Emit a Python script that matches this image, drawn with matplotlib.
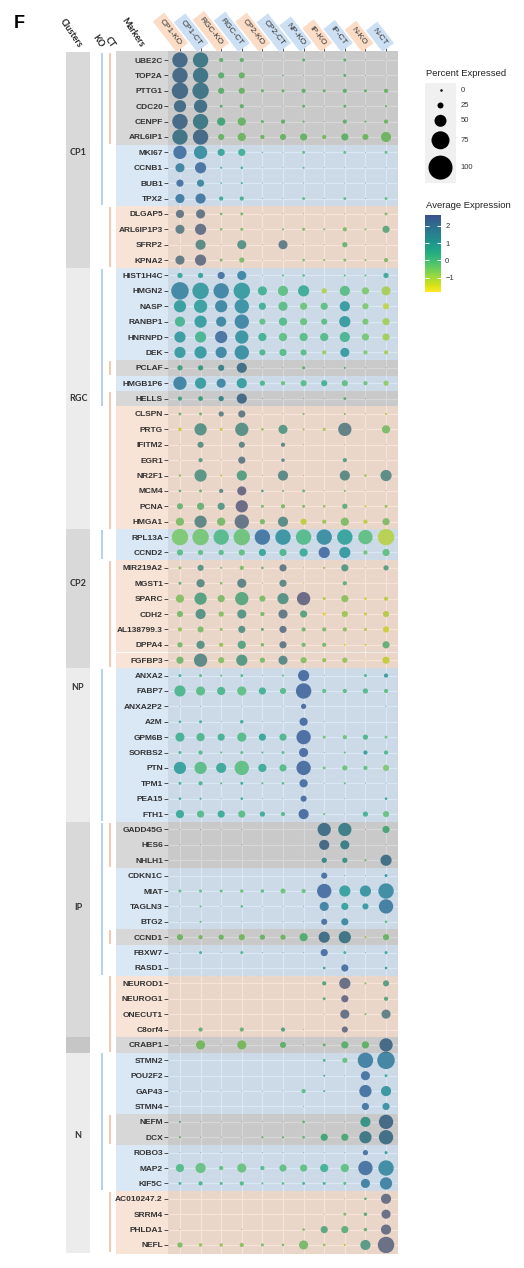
import matplotlib
matplotlib.use('Agg')
import matplotlib.pyplot as plt
import numpy as np
from matplotlib.colors import ListedColormap, Normalize
from matplotlib.cm import ScalarMappable

columns = ['CP1-KO', 'CP1-CT', 'RGC-KO', 'RGC-CT', 'CP2-KO', 'CP2-CT',
           'NP-KO', 'IP-KO', 'IP-CT', 'N-KO', 'N-CT']

clusters = ['CP1', 'RGC', 'CP2', 'NP', 'IP', 'N']
cluster_sizes = [14, 17, 9, 10, 14, 14]
shared_markers = ['CRABP1']

markers = ['UBE2C', 'TOP2A', 'PTTG1', 'CDC20', 'CENPF', 'ARL6IP1', 'MKI67', 'CCNB1', 'BUB1', 'TPX2',
           'DLGAP5', 'ARL6IP1P3', 'SFRP2', 'KPNA2',
           'HIST1H4C', 'HMGN2', 'NASP', 'RANBP1', 'HNRNPD', 'DEK', 'PCLAF', 'HMGB1P6', 'HELLS',
           'CLSPN', 'PRTG', 'IFITM2', 'EGR1', 'NR2F1', 'MCM4', 'PCNA', 'HMGA1',
           'RPL13A', 'CCND2', 'MIR219A2', 'MGST1', 'SPARC', 'CDH2', 'AL138799.3', 'DPPA4', 'FGFBP3',
           'ANXA2', 'FABP7', 'ANXA2P2', 'A2M', 'GPM6B', 'SORBS2', 'PTN', 'TPM1', 'PEA15', 'FTH1',
           'GADD45G', 'HES6', 'NHLH1', 'CDKN1C', 'MIAT', 'TAGLN3', 'BTG2', 'CCND1', 'FBXW7', 'RASD1',
           'NEUROD1', 'NEUROG1', 'ONECUT1', 'C8orf4',
           'CRABP1', 'STMN2', 'POU2F2', 'GAP43', 'STMN4', 'NEFM', 'DCX', 'ROBO3', 'MAP2', 'KIF5C',
           'AC010247.2', 'SRRM4', 'PHLDA1', 'NEFL']

# B = marker in both, C = CT only, K = KO only
row_group = ('BBBBBBCCCCKKKK' + 'CCCCCCBCBKKKKKKKK' + 'CCKKKKKKK' + 'CCCCCCCCCC'
             + 'BBBCCCCBCCKKKK' + 'BCCCCBBCCCKKKK')

# percent expressed
pct = [
    [88, 88, 24, 24, 6, 6, 17, 6, 17, 6, 6],
    [88, 88, 35, 35, 6, 9, 6, 6, 17, 6, 6],
    [94, 94, 35, 35, 17, 17, 24, 17, 24, 17, 24],
    [70, 76, 17, 24, 6, 6, 17, 6, 17, 6, 12],
    [88, 88, 47, 47, 17, 24, 12, 6, 24, 12, 24],
    [88, 88, 35, 47, 24, 35, 41, 24, 41, 35, 58],
    [76, 76, 41, 41, 9, 6, 17, 6, 17, 6, 17],
    [52, 64, 12, 15, 6, 6, 12, 6, 6, 6, 6],
    [41, 41, 9, 12, 6, 6, 6, 6, 6, 6, 6],
    [52, 58, 24, 24, 6, 6, 17, 6, 17, 6, 17],
    [47, 52, 15, 17, 6, 6, 6, 6, 6, 6, 17],
    [52, 64, 15, 17, 6, 12, 17, 12, 24, 12, 41],
    [5, 58, 6, 52, 6, 52, 6, 6, 30, 6, 6],
    [52, 64, 17, 30, 6, 6, 15, 12, 17, 12, 24],
    [30, 30, 41, 52, 6, 12, 15, 0, 12, 12, 30],
    [100, 94, 88, 94, 52, 58, 64, 30, 58, 41, 52],
    [70, 76, 70, 82, 41, 52, 41, 41, 58, 35, 35],
    [58, 70, 58, 82, 35, 47, 41, 35, 64, 35, 41],
    [64, 64, 70, 76, 47, 47, 47, 47, 58, 41, 41],
    [64, 70, 64, 82, 35, 41, 35, 24, 52, 24, 24],
    [30, 30, 35, 58, 6, 6, 17, 6, 12, 6, 6],
    [76, 64, 52, 58, 30, 24, 35, 35, 35, 24, 30],
    [24, 27, 30, 58, 6, 6, 6, 6, 17, 6, 0],
    [17, 17, 30, 41, 6, 6, 12, 0, 12, 6, 12],
    [20, 70, 17, 76, 15, 52, 12, 17, 76, 6, 47],
    [6, 35, 0, 35, 0, 24, 6, 0, 6, 0, 6],
    [6, 24, 6, 41, 6, 20, 0, 0, 24, 0, 6],
    [15, 70, 12, 58, 6, 58, 6, 0, 58, 15, 64],
    [15, 17, 24, 52, 15, 12, 17, 6, 12, 6, 6],
    [35, 41, 41, 70, 17, 24, 17, 15, 30, 12, 17],
    [47, 70, 47, 82, 30, 58, 35, 24, 47, 24, 41],
    [94, 94, 88, 94, 88, 88, 88, 88, 88, 82, 94],
    [35, 30, 30, 35, 41, 41, 47, 64, 64, 24, 41],
    [17, 35, 12, 24, 15, 41, 6, 12, 41, 6, 30],
    [17, 47, 15, 52, 6, 41, 6, 0, 24, 0, 0],
    [47, 70, 41, 76, 35, 64, 76, 17, 41, 15, 24],
    [35, 58, 30, 52, 24, 52, 41, 17, 35, 17, 35],
    [24, 35, 17, 41, 17, 41, 24, 24, 24, 17, 35],
    [30, 47, 24, 47, 20, 41, 24, 24, 12, 12, 41],
    [41, 76, 35, 64, 30, 52, 35, 24, 30, 6, 41],
    [17, 17, 12, 17, 6, 12, 64, 6, 0, 17, 24],
    [64, 52, 47, 52, 41, 35, 88, 24, 24, 30, 24],
    [6, 6, 0, 6, 0, 6, 30, 0, 0, 0, 6],
    [15, 17, 6, 20, 6, 6, 47, 6, 0, 0, 0],
    [52, 47, 41, 52, 41, 41, 82, 17, 24, 30, 17],
    [17, 24, 12, 17, 12, 17, 52, 6, 12, 24, 24],
    [70, 70, 58, 82, 47, 41, 82, 17, 30, 24, 35],
    [17, 24, 12, 17, 12, 15, 47, 6, 12, 6, 6],
    [15, 12, 6, 15, 6, 6, 35, 0, 6, 0, 15],
    [47, 41, 41, 41, 30, 24, 58, 12, 6, 30, 35],
    [6, 6, 6, 6, 0, 0, 0, 76, 76, 6, 41],
    [6, 6, 0, 6, 0, 0, 0, 58, 52, 0, 6],
    [0, 0, 0, 0, 0, 0, 0, 30, 30, 12, 64],
    [0, 0, 0, 0, 0, 0, 0, 35, 6, 6, 17],
    [17, 17, 17, 20, 20, 29, 24, 82, 64, 64, 88],
    [6, 12, 6, 15, 6, 6, 6, 52, 41, 35, 82],
    [6, 12, 0, 6, 0, 6, 6, 35, 41, 0, 15],
    [35, 24, 30, 35, 30, 30, 47, 64, 70, 12, 35],
    [6, 17, 6, 17, 6, 6, 6, 41, 17, 6, 17],
    [0, 0, 0, 0, 0, 0, 0, 15, 41, 0, 15],
    [0, 0, 0, 0, 0, 0, 0, 24, 64, 12, 35],
    [0, 0, 0, 0, 0, 0, 0, 17, 41, 0, 24],
    [0, 0, 0, 0, 0, 0, 0, 6, 52, 12, 52],
    [0, 24, 0, 24, 0, 24, 6, 0, 35, 0, 0],
    [6, 52, 6, 52, 0, 35, 6, 17, 41, 41, 76],
    [0, 0, 0, 0, 0, 0, 0, 17, 30, 88, 100],
    [0, 0, 0, 0, 0, 0, 0, 12, 6, 52, 17],
    [6, 6, 6, 6, 6, 6, 24, 12, 0, 70, 58],
    [0, 0, 0, 0, 0, 0, 6, 0, 0, 41, 41],
    [12, 6, 6, 6, 6, 6, 15, 6, 6, 58, 82],
    [12, 6, 6, 6, 12, 12, 15, 41, 41, 70, 82],
    [6, 6, 6, 6, 6, 6, 6, 6, 6, 30, 17],
    [47, 58, 24, 52, 24, 41, 41, 47, 47, 82, 88],
    [17, 24, 17, 24, 12, 15, 17, 17, 17, 52, 70],
    [0, 0, 0, 0, 0, 0, 0, 0, 6, 15, 58],
    [0, 0, 0, 0, 0, 0, 0, 6, 17, 20, 52],
    [6, 0, 0, 6, 0, 0, 15, 41, 41, 20, 58],
    [30, 20, 20, 24, 17, 15, 52, 15, 12, 58, 94],
]

# scaled average expression
avg = [
    [2.2, 1.7, -0.3, -0.3, -0.3, -0.3, -0.2, -0.3, -0.2, -0.3, -0.3],
    [2.2, 1.8, -0.2, -0.4, -0.3, -0.3, -0.3, -0.3, -0.2, -0.3, -0.3],
    [2.2, 1.8, -0.2, -0.4, -0.3, -0.3, -0.3, -0.3, -0.3, -0.3, -0.4],
    [2.1, 2.0, -0.2, -0.3, -0.3, -0.3, -0.3, -0.3, -0.3, -0.3, -0.3],
    [2.2, 1.7, 0.2, -0.4, -0.3, -0.3, -0.3, -0.3, -0.3, -0.3, -0.5],
    [1.8, 2.2, -0.4, -0.5, -0.4, -0.4, -0.4, -0.6, -0.3, -0.5, -0.5],
    [2.3, 1.4, 0.6, 0.3, -0.3, -0.3, -0.3, -0.3, -0.3, -0.3, -0.3],
    [1.8, 2.3, 0.2, 0.2, -0.3, -0.3, -0.3, -0.3, -0.3, -0.3, -0.3],
    [2.3, 1.6, 0.3, 0.3, -0.3, -0.3, -0.3, -0.3, -0.3, -0.3, -0.3],
    [2.0, 2.2, 0.4, 0.2, -0.3, -0.3, -0.3, -0.3, -0.3, -0.3, -0.3],
    [2.1, 2.2, -0.1, -0.2, -0.3, -0.3, -0.3, -0.3, -0.3, -0.3, -0.3],
    [1.8, 2.3, -0.3, -0.3, -0.3, -0.3, -0.3, -0.3, -0.3, -0.3, 0.4],
    [-0.3, 1.5, -0.3, 1.2, -0.3, 1.9, -0.3, -0.3, 0.0, -0.3, -0.3],
    [2.0, 2.3, -0.3, -0.3, -0.3, -0.3, -0.3, -0.3, -0.3, -0.3, -0.3],
    [0.6, 0.7, 2.3, 1.7, -0.3, -0.3, -0.2, -0.3, -0.2, -0.3, 0.5],
    [1.7, 1.0, 1.7, 1.0, 0.2, -0.3, 0.4, -1.3, -0.2, -0.7, -1.2],
    [0.9, 0.8, 1.6, 1.3, 0.3, -0.2, -0.5, -0.3, 1.0, -0.7, -1.5],
    [0.1, 0.9, 1.6, 1.7, -0.3, -0.1, -0.4, -0.2, 1.0, -0.6, -1.1],
    [1.0, 0.1, 2.3, 1.2, 0.2, -0.3, -0.2, -0.1, 0.1, -0.6, -1.1],
    [1.0, 1.0, 1.6, 1.4, 0.0, -0.1, -0.2, -1.0, 1.0, -0.7, -1.2],
    [0.3, 0.6, 1.4, 2.0, -0.3, -0.3, -0.3, -0.3, -0.3, -0.3, -0.3],
    [1.8, 0.9, 1.7, 0.9, 0.0, -0.4, -0.2, 0.2, -0.3, -0.5, -0.9],
    [0.3, 0.5, 1.3, 2.2, -0.3, -0.3, -0.3, -0.3, -0.3, -0.3, -0.3],
    [0.0, 0.0, 1.7, 2.0, -0.3, -0.3, -0.3, -0.3, -0.3, -0.3, -1.0],
    [-1.2, 1.2, -1.2, 1.3, -0.5, 1.0, -0.6, -0.8, 1.8, -1.3, -0.3],
    [-0.3, 1.3, -0.3, 1.6, -0.3, 1.6, -0.3, -0.3, -0.3, -0.3, -0.3],
    [-0.3, 0.8, -0.3, 2.0, -0.3, 1.5, -0.3, -0.3, 0.8, -0.3, -0.3],
    [-0.6, 1.1, -1.0, 0.8, -0.3, 1.5, -0.3, -0.3, 1.5, -0.7, 1.4],
    [0.3, 0.0, 1.5, 2.5, 1.0, -0.3, 0.0, -0.3, -0.3, -0.3, -0.3],
    [0.0, 0.1, 1.0, 2.5, -0.2, -0.2, -0.3, -0.5, 0.3, -1.3, -0.6],
    [-0.3, 1.6, -0.2, 2.2, -0.2, 1.4, -1.1, -0.7, -0.3, -1.1, -0.3],
    [-0.7, -0.6, -0.1, -0.5, 2.2, 1.2, -0.1, 1.4, 0.7, -0.3, -1.4],
    [-0.2, -0.3, -0.2, -0.3, 0.6, 0.0, 0.4, 2.4, 1.1, -0.5, -0.3],
    [-0.4, 1.1, -0.3, -0.3, 0.0, 2.0, -0.3, -0.6, 1.0, -0.3, 0.7],
    [0.2, 1.4, -0.3, 1.7, -0.3, 1.5, -1.3, -0.3, 0.2, -0.3, -0.3],
    [-0.4, 0.7, -0.3, 0.5, -0.3, 1.2, 2.5, -1.0, -0.5, -1.3, -1.1],
    [-0.2, 1.2, -0.4, 1.1, -0.2, 2.0, 0.6, -1.5, -0.7, -1.2, -1.0],
    [-0.6, -0.3, -0.4, 1.2, 0.5, 2.2, -0.1, -0.3, -0.5, -1.0, -1.3],
    [-0.2, 1.2, -0.6, 0.6, -0.2, 2.0, -0.1, -0.2, -1.6, -1.4, 0.2],
    [-0.1, 1.5, -0.4, 1.0, -0.3, 1.5, -0.4, -0.6, -0.6, -1.5, -1.2],
    [0.2, -0.2, -0.3, -0.2, -0.3, -0.3, 2.5, -0.3, -0.3, 0.1, 0.9],
    [0.0, -0.2, 0.0, -0.3, 0.2, -0.1, 2.5, -0.3, -0.2, -0.1, -0.3],
    [-0.3, -0.3, -0.3, -0.3, -0.3, -0.3, 2.5, -0.3, -0.3, -0.3, 0.5],
    [0.3, 0.3, -0.3, 0.4, -0.3, -0.3, 2.5, -0.3, -0.3, -0.3, -0.3],
    [0.2, 0.0, 0.2, -0.1, 0.6, 0.0, 2.5, -0.5, -0.5, 0.0, -0.5],
    [0.0, -0.1, -0.2, -0.2, -0.2, -0.2, 2.5, -0.3, -0.3, 0.9, 0.0],
    [0.8, -0.2, 0.5, -0.3, 0.4, -0.1, 2.5, -0.6, -0.5, -0.3, -0.7],
    [0.1, 0.0, -0.2, 0.4, -0.2, -0.2, 2.4, -0.3, -0.3, -0.3, -0.3],
    [0.5, 0.2, -0.3, 0.4, -0.3, -0.3, 2.4, -0.3, -0.3, -0.3, 0.6],
    [0.5, -0.1, 0.4, -0.2, 0.4, -0.1, 2.5, -0.3, -1.0, 0.2, -0.4],
    [-0.3, -0.3, -0.3, -0.3, -0.3, -0.3, -0.3, 2.0, 1.5, -0.3, 0.1],
    [-0.3, -0.3, -0.3, -0.3, -0.3, -0.3, -0.3, 2.2, 1.5, -0.3, -0.3],
    [-0.3, -0.3, -0.3, -0.3, -0.3, -0.3, -0.3, 1.2, 0.8, -0.3, 2.0],
    [-0.3, -0.3, -0.3, -0.3, -0.3, -0.3, -0.3, 2.4, 0.5, -0.3, 1.0],
    [-0.3, -0.3, -0.3, -0.5, -0.3, -0.5, -0.4, 2.4, 0.8, 1.2, 1.5],
    [-0.3, -0.3, -0.3, -0.3, -0.3, -0.3, -0.3, 1.8, 0.8, 1.0, 2.0],
    [-0.3, -0.3, -0.3, -0.3, -0.3, -0.3, -0.3, 2.3, 1.6, -0.3, -0.3],
    [-0.5, -0.6, -0.5, -0.6, -0.4, -0.5, -0.1, 2.0, 1.8, -1.2, -0.4],
    [0.0, 0.2, -0.3, 0.0, -0.3, -0.3, -0.3, 2.4, 0.3, -0.3, 0.6],
    [-0.3, -0.3, -0.3, -0.3, -0.3, -0.3, -0.3, 0.8, 2.4, -0.3, 0.9],
    [-0.3, -0.3, -0.3, -0.3, -0.3, -0.3, -0.3, 0.6, 2.4, -0.3, 0.8],
    [-0.3, -0.3, -0.3, -0.3, -0.3, -0.3, -0.3, 0.3, 2.5, -0.3, 0.5],
    [-0.3, -0.3, -0.3, -0.3, -0.3, -0.3, -0.3, -0.3, 2.3, -0.2, 1.8],
    [-0.3, 0.2, -0.3, 0.1, -0.3, 0.8, -0.3, -0.3, 2.4, -0.3, -0.3],
    [-0.3, -0.6, -0.3, -0.6, -0.3, -0.3, -0.3, -0.3, -0.2, -0.3, 2.2],
    [-0.3, -0.3, -0.3, -0.3, -0.3, -0.3, -0.3, 0.0, -0.4, 1.9, 1.8],
    [-0.3, -0.3, -0.3, -0.3, -0.3, -0.3, -0.3, 0.2, -0.3, 2.3, 0.3],
    [-0.3, -0.3, -0.3, -0.3, -0.3, -0.3, -0.2, 0.0, -0.3, 2.3, 1.2],
    [-0.3, -0.3, -0.3, -0.3, -0.3, -0.3, -0.3, -0.3, -0.3, 2.2, 1.3],
    [0.0, -0.3, -0.3, -0.3, -0.3, -0.3, -0.3, -0.3, -0.3, 0.8, 2.2],
    [-0.3, -0.3, -0.3, -0.3, -0.3, -0.3, -0.3, 0.2, 0.0, 1.7, 2.0],
    [-0.3, -0.3, -0.3, -0.3, -0.3, -0.3, -0.3, -0.3, -0.3, 2.3, 1.0],
    [-0.1, -0.4, -0.3, -0.4, -0.1, -0.3, -0.3, 0.2, -0.3, 2.3, 1.5],
    [0.1, 0.1, 0.0, -0.1, -0.2, -0.2, 0.0, 0.1, -0.1, 1.9, 1.8],
    [-0.3, -0.3, -0.3, -0.3, -0.3, -0.3, -0.3, -0.3, -0.3, 0.3, 2.4],
    [-0.3, -0.3, -0.3, -0.3, -0.3, -0.3, -0.3, -0.3, -0.2, 0.5, 2.4],
    [-0.3, -0.3, -0.3, -0.3, -0.3, -0.3, -0.3, 0.5, 0.3, 0.1, 2.4],
    [-0.3, -0.6, -0.6, -0.5, -0.3, -0.3, -0.2, -0.5, -1.0, 0.9, 2.4],
]

legend_pct = [0, 25, 50, 75, 100]
cbar_ticks = [-1, 0, 1, 2]

# ---- styling ----
W, H = 524, 1268
TXT = '#333333'
band_colors = {'B': ('#7d7d7d', 0.3), 'C': ('#87b2de', 0.3), 'K': ('#e8a57d', 0.3)}
head_ko, head_ct = '#fbdcc6', '#cde0f3'
head_colors = [head_ko, head_ct, head_ko, head_ct, head_ko, head_ct,
               head_ct, head_ko, head_ct, head_ko, head_ct]
# row position of each cluster name in the strip (not always centred)
cluster_label_rows = [6.0, 22.0, 34.0, 40.8, 55.1, 69.9]
cmap = ListedColormap(plt.cm.viridis(np.linspace(0.25, 1.0, 256))[::-1])
norm = Normalize(vmin=-1.83, vmax=2.62)
px_per_pct = 0.175

n_rows, n_cols = len(markers), len(columns)
pct_arr = np.array(pct, float)
avg_arr = np.array(avg, float)
shared = np.array([m in shared_markers for m in markers])

fig = plt.figure(figsize=(W / 100, H / 100), dpi=100)


def frac_box(x0, y0, x1, y1):
    return [x0 / W, 1 - y1 / H, (x1 - x0) / W, (y1 - y0) / H]


panel_top, panel_bot = 50.8, 1254.2
ax_left = fig.add_axes(frac_box(60, panel_top, 167.6, panel_bot))
ax = fig.add_axes(frac_box(167.6, panel_top, 398.4, panel_bot))

# left strip: clusters, KO/CT lines, band under marker names
ax_left.set_xlim(60, 167.6)
ax_left.set_ylim(n_rows - 0.4, -0.6)
ax_left.axis('off')

starts = np.concatenate([[0], np.cumsum(cluster_sizes)[:-1]])
box_cols = ['#d9d9d9', '#ececec'] * 3
ax_left.barh(starts + np.array(cluster_sizes) / 2 - 0.5, 24, left=66,
             height=cluster_sizes, color=box_cols, edgecolor='none')
shared_rows = np.nonzero(shared)[0]
ax_left.barh(shared_rows, 24, left=66, height=1, color='#c6c6c6', edgecolor='none')
for name, yl in zip(clusters, cluster_label_rows):
    ax_left.text(78, yl, name, ha='center', va='center',
                 fontsize=6.5, fontweight='bold', family='Lato', color=TXT)

# rows shared by two clusters stay with the cluster above for the lines
row_cluster = np.repeat(np.arange(len(clusters)), cluster_sizes)
line_block = np.where(shared, np.roll(row_cluster, 1), row_cluster)


def runs(flags):
    out, start = [], None
    for i in range(n_rows + 1):
        on = i < n_rows and flags[i]
        if on and start is not None and line_block[i] != line_block[i - 1]:
            out.append((start, i - 1))
            start = None
        if on and start is None:
            start = i
        if not on and start is not None:
            out.append((start, i - 1))
            start = None
    return out


blue_flags = [g in 'BC' and not s for g, s in zip(row_group, shared)]
orange_flags = [g in 'BK' for g in row_group]
for x, flags, col in [(102, blue_flags, '#9fc5e8'), (110, orange_flags, '#f4b896')]:
    for a, b in runs(flags):
        ax_left.vlines(x, a - 0.45, b + 0.45, color=col, lw=1.1)

for i, g in enumerate(row_group):
    c, al = band_colors[g]
    lo = -0.6 if i == 0 else i - 0.5
    hi = n_rows - 0.4 if i == n_rows - 1 else i + 0.5
    ax_left.axhspan(lo, hi, xmin=(116 - 60) / 107.6, xmax=1, color=c, alpha=al, lw=0)
    ax.axhspan(lo, hi, color=c, alpha=al, lw=0, zorder=3)

# dot panel
ax.set_facecolor('#ebebeb')
ax.set_xlim(-0.6, n_cols - 0.4)
ax.set_ylim(n_rows - 0.4, -0.6)
for sp in ax.spines.values():
    sp.set_visible(False)
ax.set_xticks(range(n_cols))
ax.set_yticks(range(n_rows))
ax.set_yticklabels(markers, fontsize=6, fontweight='bold', family='Liberation Sans', color=TXT)
ax.tick_params(axis='y', length=2.6, width=0.6, pad=0.8, color=TXT)
ax.tick_params(axis='x', top=True, bottom=False, labeltop=False, labelbottom=False,
               length=2.6, width=0.6, color=TXT)
ax.grid(True, color='white', lw=0.8)
ax.set_axisbelow(True)

yy, xx = np.meshgrid(np.arange(n_rows), np.arange(n_cols), indexing='ij')
m = pct_arr > 0
sizes = (pct_arr[m] * px_per_pct * 0.72) ** 2
ax.scatter(xx[m], yy[m], s=sizes, c=avg_arr[m], cmap=cmap, norm=norm,
           edgecolors='none', zorder=2)

for i, name in enumerate(columns):
    ax.annotate(name, xy=(i, 1), xycoords=('data', 'axes fraction'),
                xytext=(0, 4.5), textcoords='offset points', rotation=-52,
                rotation_mode='anchor', ha='right', va='center', fontsize=6,
                family='Liberation Sans', color=TXT,
                bbox=dict(boxstyle='square,pad=0.45', fc=head_colors[i], ec='none'))

for x, label in [(80, 'Clusters'), (102, 'KO'), (113, 'CT'), (142, 'Markers')]:
    ax_left.annotate(label, xy=(x, 1), xycoords=('data', 'axes fraction'),
                     xytext=(0, 3), textcoords='offset points', rotation=-56,
                     rotation_mode='anchor', ha='right', va='center', fontsize=6.5,
                     fontweight='bold', family='Lato', color='#222222')

fig.text(14 / W, 1 - 28 / H, 'F', fontsize=13, fontweight='bold',
         family='Liberation Sans', va='baseline')

# size legend
leg_d = [0.24 * p for p in legend_pct]
key_h = [max(15, 1.3 * d) for d in leg_d]
leg_top = 83
ax_leg = fig.add_axes(frac_box(425, leg_top, 456, leg_top + sum(key_h)))
ax_leg.set_xlim(0, 1)
ax_leg.set_ylim(sum(key_h), 0)
ax_leg.set_facecolor('#f0f0f0')
ax_leg.set_xticks([])
ax_leg.set_yticks([])
for sp in ax_leg.spines.values():
    sp.set_visible(False)
centers = np.cumsum(key_h) - np.array(key_h) / 2
ax_leg.scatter([0.5] * len(legend_pct), centers, s=[(d * 0.72) ** 2 for d in leg_d],
               color='black', edgecolors='none')
ax_leg.scatter([0.5], [centers[0]], s=0.6, color='black')
for c, p in zip(centers, legend_pct):
    ax_leg.text(1.15, c, str(p), transform=ax_leg.get_yaxis_transform(),
                va='center', ha='left', fontsize=5.5, family='Liberation Sans', color=TXT)
fig.text(426 / W, 1 - 74 / H, 'Percent Expressed', fontsize=6.8,
         family='Liberation Sans', va='center', color='#222222')

# colour bar
cax = fig.add_axes(frac_box(425, 215, 441, 292))
cb = fig.colorbar(ScalarMappable(norm=norm, cmap=cmap), cax=cax, ticks=cbar_ticks)
cb.outline.set_visible(False)
cax.tick_params(axis='y', direction='in', length=3.2, width=0.7, color='white',
                labelsize=5.5, pad=3, left=True, right=True, labelcolor=TXT)
for t in cax.get_yticklabels():
    t.set_family('Liberation Sans')
fig.text(426 / W, 1 - 206 / H, 'Average Expression', fontsize=6.8,
         family='Liberation Sans', va='center', color='#222222')

fig.savefig('out.png', dpi=100)
